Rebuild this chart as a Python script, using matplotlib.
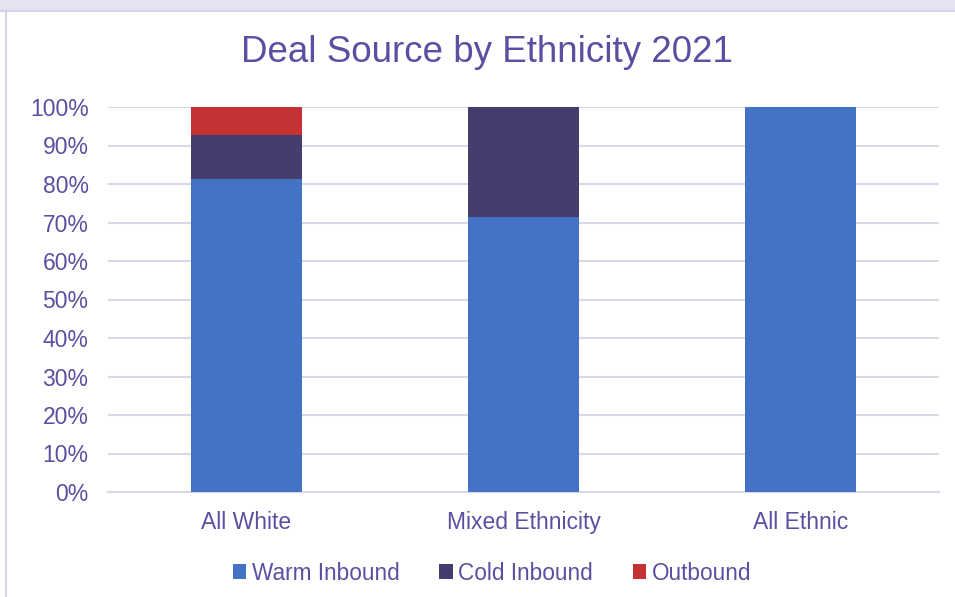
import matplotlib
matplotlib.use("Agg")
import matplotlib.pyplot as plt
from matplotlib.patches import Rectangle
from matplotlib.lines import Line2D

categories = ["All White", "Mixed Ethnicity", "All Ethnic"]
warm_inbound = [81.3, 71.4, 100.0]
cold_inbound = [11.3, 28.6, 0.0]
outbound = [7.4, 0.0, 0.0]
series_names = ["Warm Inbound", "Cold Inbound", "Outbound"]
y_ticks = [0, 10, 20, 30, 40, 50, 60, 70, 80, 90, 100]

TEXT = "#5b4fa1"
GRID = "#d9d8ea"
COLORS = ["#4472c4", "#463c6e", "#c43234"]

plt.rcParams["font.family"] = ["Liberation Sans", "DejaVu Sans"]

W, H = 955, 597
fig = plt.figure(figsize=(W / 100, H / 100), dpi=100)
fig.patch.set_facecolor("white")

# Window band and frame around the chart
fig.add_artist(Rectangle((0, 1 - 10 / H), 1, 10 / H, transform=fig.transFigure,
                         facecolor="#e4e3f1", edgecolor="none"))
fig.add_artist(Line2D([0, 1], [1 - 11 / H, 1 - 11 / H], transform=fig.transFigure,
                      color="#d6d4e8", lw=1.5))
fig.add_artist(Line2D([5.5 / W, 5.5 / W], [0, 1 - 11 / H], transform=fig.transFigure,
                      color="#d6d4e8", lw=1.5))

ax = fig.add_axes([108 / W, 1 - 492 / H, (939 - 108) / W, (492 - 107) / H])
x = range(len(categories))
bottom = [0.0] * len(categories)
for vals, name, col in zip([warm_inbound, cold_inbound, outbound], series_names, COLORS):
    ax.bar(x, [v / 100 for v in vals], width=0.4, bottom=bottom, color=col,
           label=name, zorder=3)
    bottom = [b + v / 100 for b, v in zip(bottom, vals)]

ax.set_xlim(-0.5, 2.5)
ax.set_ylim(0, 1)
ax.set_yticks([t / 100 for t in y_ticks])
ax.set_yticklabels([f"{t}%" for t in y_ticks])
ax.set_xticks(list(x))
ax.set_xticklabels(categories)
ax.yaxis.grid(True, color=GRID, lw=1.5, zorder=0)
ax.set_axisbelow(True)
for s in ["top", "right", "left"]:
    ax.spines[s].set_visible(False)
ax.spines["bottom"].set_color(GRID)
ax.spines["bottom"].set_linewidth(1.5)
ax.tick_params(axis="both", length=0, colors=TEXT, labelsize=16.5)
ax.tick_params(axis="y", pad=14)
ax.tick_params(axis="x", pad=13.5)

fig.text(487 / W, 1 - 53 / H, "Deal Source by Ethnicity 2021", ha="center",
         va="center", fontsize=26.5, color=TEXT)

handles = [Rectangle((0, 0), 1, 1, facecolor=c) for c in COLORS]
leg = fig.legend(handles, series_names, loc="center", bbox_to_anchor=(492 / W, 1 - 573 / H),
                 ncol=3, frameon=False, fontsize=16.3, handlelength=0.6, handleheight=0.6,
                 handletextpad=0.25, columnspacing=1.75)
for t in leg.get_texts():
    t.set_color(TEXT)

fig.savefig("out.png", dpi=100, facecolor="white")
